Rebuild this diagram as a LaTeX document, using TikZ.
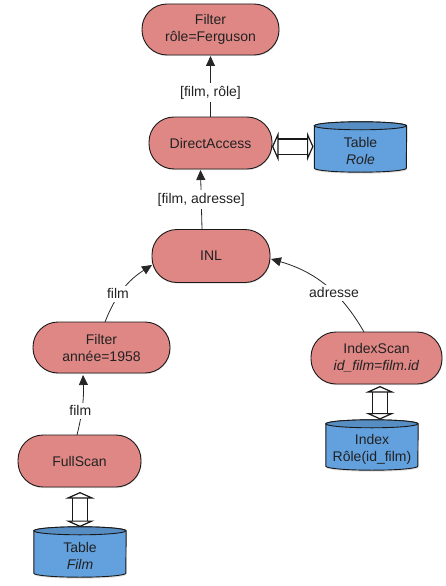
\documentclass[tikz,border=0pt]{standalone}
\usepackage{fontspec}
\setmainfont{Liberation Sans}
\usetikzlibrary{shapes.geometric,arrows.meta,shadows,backgrounds}
\definecolor{opred}{HTML}{DF8785}
\definecolor{tblue}{HTML}{62A0DE}
\definecolor{ink}{HTML}{222222}
\tikzset{
  x=1pt,y=-1pt,
  every node/.style={font=\fontsize{14}{17}\selectfont,text=ink},
  opnode/.style={draw=black!90,line width=0.9pt,fill=opred,rounded corners=25pt,align=center,
    inner sep=0pt,drop shadow={shadow xshift=0.5pt,shadow yshift=-1pt,opacity=0.25}},
  store/.style={align=center,inner sep=0pt,minimum width=92pt,minimum height=50pt},
  drumline/.style={draw=black!90,line width=0.9pt,fill=tblue,
    drop shadow={shadow xshift=0.5pt,shadow yshift=-1.5pt,opacity=0.25}},
  flow/.style={draw=black!85,line width=0.8pt,-{Triangle[length=10pt,width=9pt]}},
  tag/.style={fill=white,inner sep=3pt},
  access/.style={double=white,double distance=14pt,line width=1.2pt,draw=black!90,
    {Triangle[open,fill=white,length=6.5pt,width=29pt]}-{Triangle[open,fill=white,length=6.5pt,width=29pt]}},
}
\newcommand{\drum}[1]{%
  \draw[drumline] (#1.north west) -- ([yshift=8pt]#1.south west)
    arc[start angle=180,end angle=360,x radius=46pt,y radius=4pt]
    -- (#1.north east)
    arc[start angle=0,end angle=180,x radius=46pt,y radius=4pt] -- cycle;
  \draw[draw=black!90,line width=0.9pt,fill=tblue!88!black] (#1.north west)
    arc[start angle=180,end angle=360,x radius=46pt,y radius=4pt]
    arc[start angle=0,end angle=180,x radius=46pt,y radius=4pt] -- cycle;
}
\begin{document}
\begin{tikzpicture}
\useasboundingbox (0,0) rectangle (445,586);
\node[opnode,minimum width=137pt,minimum height=51pt] (filtertop) at (210.5,29.5) {Filter\\rôle=Ferguson};
\node[opnode,minimum width=123pt,minimum height=52pt] (direct) at (210.5,143) {DirectAccess};
\node[store] (role) at (360.5,151) {Table\\\textit{Role}};
\node[opnode,minimum width=118pt,minimum height=53pt] (inl) at (211,256) {INL};
\node[opnode,minimum width=137pt,minimum height=51pt] (filter58) at (101.5,347.5) {Filter\\année=1958};
\node[opnode,minimum width=123pt,minimum height=52pt] (full) at (79.5,461) {FullScan};
\node[store] (film) at (80,556) {Table\\\textit{Film}};
\node[opnode,minimum width=131pt,minimum height=52pt] (iscan) at (376.5,358) {IndexScan\\\textit{id\_film=film.id}};
\node[store] (index) at (372,449) {Index\\Rôle(id\_film)};
\begin{scope}[on background layer]
\drum{role}
\drum{film}
\drum{index}
\end{scope}

\coordinate (a1) at (210.5,117);
\coordinate (a2) at (210.5,56);
\draw[flow] (a1) -- node[tag,pos=0.4] {[film, rôle]} (a2);
\coordinate (b1) at (202,229);
\coordinate (b2) at (200.5,170);
\draw[flow] (b1) -- node[tag,pos=0.5] {[film, adresse]} (b2);
\coordinate (c1) at (105,322);
\coordinate (c2) at (152,265);
\draw[flow] (c1) to[bend left=18] node[tag,pos=0.42,xshift=-2pt] {film} (c2);
\coordinate (d1) at (77,435);
\coordinate (d2) at (83,375);
\draw[flow] (d1) to[bend right=8] node[tag,pos=0.4,xshift=-1.5pt] {film} (d2);
\coordinate (e1) at (364,332);
\coordinate (e2) at (271,259);
\draw[flow] (e1) to[bend right=22] node[tag,pos=0.4] {adresse} (e2);
\coordinate (f1) at (272,146.5);
\coordinate (f2) at (313.5,146.5);
\draw[access] (f1) -- (f2);
\coordinate (g1) at (80,492);
\coordinate (g2) at (80,527);
\draw[access] (g1) -- (g2);
\coordinate (h1) at (380,386);
\coordinate (h2) at (380,419.5);
\draw[access] (h1) -- (h2);
\end{tikzpicture}
\end{document}
